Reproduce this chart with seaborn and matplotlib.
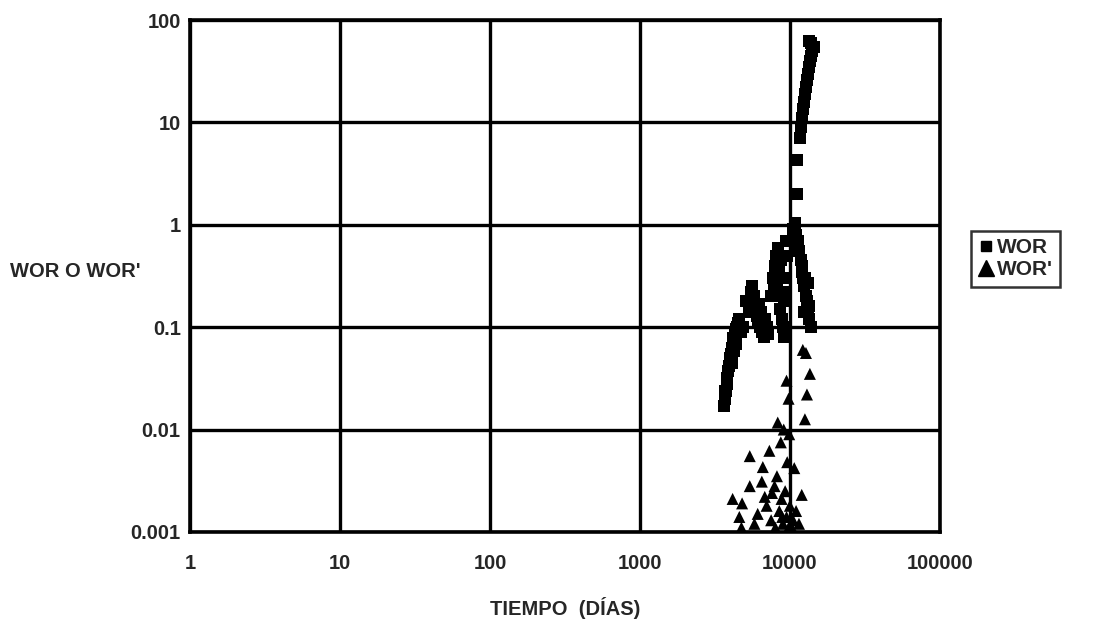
import matplotlib
matplotlib.use("Agg")
import matplotlib.pyplot as plt
import seaborn as sns
import pandas as pd
from matplotlib.lines import Line2D
from matplotlib.ticker import FixedLocator, FixedFormatter, NullLocator

# WOR (water-oil ratio) vs time in days
wor_dias = [3650, 3700, 3720, 3780, 3830, 3880, 3950, 4000, 4050, 4100, 4150, 4200,
            4300, 4350, 4450, 4500, 4550, 4100, 4250, 4400, 4700, 4900,
            5100, 5300, 5600, 5800, 5900, 6000, 6100, 6300, 6500, 6700, 6400, 6800, 7000,
            5500, 6200, 6600, 7200,
            7500, 7700, 7900, 8100, 8300, 8000, 8200, 8400, 8600, 8800, 9000, 9200,
            8700, 9000, 9300, 9500, 7800, 8500, 9100, 9400,
            10500, 10800, 11000, 11200, 11500, 11800, 12000, 12200, 12500, 12800,
            13000, 13300, 13500, 13800, 12500, 13200, 11400, 12000, 12700, 13400,
            11100, 11100, 11600, 11900, 12100, 12300, 12500, 12700, 12900, 13100,
            13300, 13500, 13700, 13900, 14100, 14400, 13900, 13500]
wor_vals = [0.017, 0.02, 0.024, 0.028, 0.032, 0.037, 0.042, 0.05, 0.055, 0.062, 0.07, 0.078,
            0.085, 0.095, 0.1, 0.11, 0.12, 0.045, 0.058, 0.068, 0.09, 0.1,
            0.18, 0.14, 0.25, 0.2, 0.16, 0.13, 0.11, 0.1, 0.09, 0.08, 0.14, 0.12, 0.1,
            0.22, 0.17, 0.12, 0.085,
            0.2, 0.3, 0.4, 0.5, 0.6, 0.35, 0.25, 0.2, 0.15, 0.12, 0.1, 0.08,
            0.45, 0.3, 0.22, 0.5, 0.25, 0.4, 0.18, 0.7,
            0.9, 1.05, 0.8, 0.65, 0.55, 0.45, 0.35, 0.3, 0.25, 0.2,
            0.18, 0.15, 0.12, 0.1, 0.14, 0.27, 0.7, 0.4, 0.3, 0.16,
            2.0, 4.3, 7.0, 9.0, 11.0, 13.5, 16.0, 19.0, 22.0, 26.0,
            30.0, 35.0, 40.0, 45.0, 50.0, 55.0, 60.0, 63.0]

# WOR' (derivative of WOR)
worp_dias = [4150, 4800, 4600, 4750, 5400, 5400, 6100, 6500, 6600, 7300, 7900, 8300,
             9100, 10700, 12000, 7000, 7500, 8000, 8500, 9000, 9500, 9800, 8800, 9300,
             10000, 10500, 11000, 8200, 9600, 8700, 9900, 5800, 6800, 12600, 13000,
             13600, 12800, 12200, 9800, 9500, 10300, 8900, 7600, 11500]
worp_vals = [0.0021, 0.0019, 0.0014, 0.0011, 0.0055, 0.0028, 0.0015, 0.0031, 0.0043, 0.0062,
             0.0028, 0.0117, 0.01, 0.0042, 0.0023, 0.0018, 0.0013, 0.0011, 0.0016, 0.0012,
             0.0014, 0.0011, 0.0021, 0.0025, 0.0018, 0.0013, 0.0016, 0.0035, 0.0048, 0.0075,
             0.009, 0.0012, 0.0022, 0.0126, 0.022, 0.035, 0.056, 0.06, 0.02, 0.03,
             0.0011, 0.0014, 0.0024, 0.0012]

x_ticks = [1, 10, 100, 1000, 10000, 100000]
x_labels = ["1", "10", "100", "1000", "10000", "100000"]
y_ticks = [0.001, 0.01, 0.1, 1, 10, 100]
y_labels = ["0.001", "0.01", "0.1", "1", "10", "100"]

df = pd.DataFrame({
    "dias": wor_dias + worp_dias,
    "valor": wor_vals + worp_vals,
    "serie": ["WOR"] * len(wor_dias) + ["WOR'"] * len(worp_dias),
})

sns.set_style("white")
plt.rcParams["font.family"] = ["Liberation Sans", "DejaVu Sans"]

fig = plt.figure(figsize=(10.94, 6.28), dpi=100)
ax = fig.add_axes([0.174, 0.153, 0.685, 0.815])

sns.scatterplot(data=df, x="dias", y="valor", hue="serie", style="serie",
                palette={"WOR": "black", "WOR'": "black"},
                markers={"WOR": "s", "WOR'": "^"},
                s=75, linewidth=0, ax=ax, legend=False, zorder=3)

ax.set_xscale("log")
ax.set_yscale("log")
ax.set_xlim(1, 100000)
ax.set_ylim(0.001, 100)

ax.xaxis.set_major_locator(FixedLocator(x_ticks))
ax.xaxis.set_major_formatter(FixedFormatter(x_labels))
ax.yaxis.set_major_locator(FixedLocator(y_ticks))
ax.yaxis.set_major_formatter(FixedFormatter(y_labels))
ax.xaxis.set_minor_locator(NullLocator())
ax.yaxis.set_minor_locator(NullLocator())

ax.grid(True, which="major", color="black", linewidth=2.4, zorder=1)
ax.set_axisbelow(True)
for sp in ax.spines.values():
    sp.set_visible(True)
    sp.set_color("black")
    sp.set_linewidth(2.6)

ax.tick_params(axis="both", which="major", direction="out", length=3, width=1.2,
               labelsize=14.5, color="black")
for lab in ax.get_xticklabels() + ax.get_yticklabels():
    lab.set_fontweight("bold")
ax.tick_params(axis="x", pad=13)
ax.tick_params(axis="y", pad=4)

ax.set_xlabel("TIEMPO  (DÍAS)", fontsize=14.5, fontweight="bold", labelpad=17)
ax.set_ylabel("")
fig.text(0.009, 0.568, "WOR O WOR'", fontsize=14.5, fontweight="bold",
         ha="left", va="center")

handles = [
    Line2D([], [], marker="s", color="black", linestyle="", markersize=7),
    Line2D([], [], marker="^", color="black", linestyle="", markersize=12),
]
leg = fig.legend(handles, ["WOR", "WOR'"], loc="center left",
                 bbox_to_anchor=(0.878, 0.588), frameon=True, fancybox=False,
                 edgecolor="black", handlelength=0.7, handletextpad=0.2,
                 borderpad=0.35, labelspacing=0.15,
                 prop={"size": 15, "weight": "bold"})
leg.get_frame().set_linewidth(1.8)

fig.savefig("out.png", dpi=100)
